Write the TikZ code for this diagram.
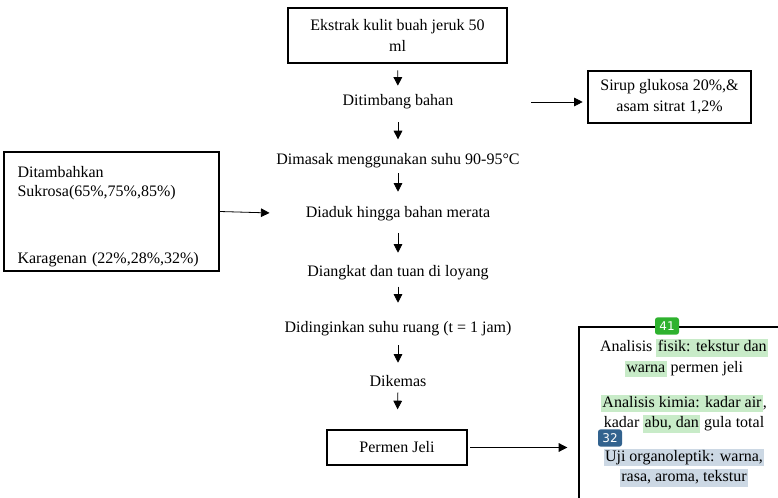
\documentclass[tikz,border=0pt]{standalone}
\usepackage{fontspec}
\setmainfont{Liberation Serif}
\newfontfamily\badgefont{DejaVu Sans}
\usepackage{tikz}
\usetikzlibrary{arrows.meta,positioning}
\usepackage{xcolor}
\definecolor{hlgreen}{RGB}{200,235,200}
\definecolor{hlblue}{RGB}{204,216,228}
\definecolor{badgegreen}{RGB}{46,178,46}
\definecolor{badgeblue}{RGB}{50,98,142}
\newcommand\hlg[1]{{\setlength\fboxsep{1pt}\colorbox{hlgreen}{\vphantom{Ag}#1}}}
\newcommand\hlb[1]{{\setlength\fboxsep{1pt}\colorbox{hlblue}{\vphantom{Ag}#1}}}

\begin{document}
\begin{tikzpicture}[x=0.75pt,y=-0.75pt,
    every node/.style={font=\fontsize{12}{15.5}\selectfont},
    box/.style={draw,line width=1.2pt,align=center,inner sep=0pt},
    stage/.style={inner sep=0pt,text height=9pt,text depth=3pt,anchor=base},
    flow/.style={-{Triangle[length=6.5pt,width=6.5pt]},line width=0.6pt},
    badge/.style={rounded corners=2pt,text=white,inner sep=0pt,minimum width=18pt,
      minimum height=13pt,font=\badgefont\fontsize{9}{9}\selectfont}]
  \useasboundingbox (0,0) rectangle (778,498);
  \clip (0,0) rectangle (778,498);

  \node[box,minimum width=164pt,minimum height=41pt] (ekstrak) at (397.5,35.5)
    {Ekstrak kulit buah jeruk 50\\ml};
  \node[stage] (timbang) at (398,106) {Ditimbang bahan};
  \node[stage] (masak) at (398,165) {Dimasak menggunakan suhu 90-95°C};
  \node[stage] (aduk) at (398,218) {Diaduk hingga bahan merata};
  \node[stage] (angkat) at (398,277) {Diangkat dan tuan di loyang};
  \node[stage] (dingin) at (398,333) {Didinginkan suhu ruang (t = 1 jam)};
  \node[stage] (kemas) at (398,387) {Dikemas};
  \node[box,minimum width=105pt,minimum height=26pt] (permen) at (397,447.5) {Permen Jeli};

  \node[box,minimum width=122pt,minimum height=39pt] (sirup) at (669.5,97)
    {Sirup glukosa 20\%,\&\\asam sitrat 1,2\%};
  \node[box,minimum width=161pt,minimum height=89pt,text width=141pt,align=left]
    (tambah) at (111.5,211.5)
    {\rule{0pt}{16pt}Ditambahkan\\[-1pt]Sukrosa(65\%,75\%,85\%)\\[35pt]Karagenan (22\%,28\%,32\%)};

  \node[draw,line width=1.2pt,minimum width=260pt,minimum height=200pt,anchor=north west]
    (hasil) at (578,326) {};
  \node[align=center,inner sep=0pt] (uji) at (684,413)
    {Analisis \hlg{fisik: tekstur dan}\\\hlg{warna} permen jeli\\[10.5pt]
     \hlg{Analisis kimia: kadar air},\\kadar \hlg{abu, dan} gula total\\[9.5pt]
     \hlb{Uji organoleptik: warna,}\\\hlb{rasa, aroma, tekstur}};
  \node[badge,fill=badgegreen] (b41) at (667,326) {41};
  \node[badge,fill=badgeblue] (b32) at (610,438) {32};

  \foreach \from/\to/\s/\e in {ekstrak/timbang/5/6, timbang/masak/9/10,
      masak/aduk/3/10.5, aduk/angkat/8/9, angkat/dingin/4/13.5,
      dingin/kemas/6/9, kemas/permen/1/15}
    \draw[flow,shorten <=\s pt,shorten >=\e pt] (\from) -- (\to);

  \coordinate (c1) at (531,102);
  \draw[flow,shorten >=3.5pt] (c1) -- (c1 -| sirup.west);
  \draw[flow,shorten <=-1pt,shorten >=27pt] (tambah.east) -- (aduk.west);
  \draw[flow,shorten <=2pt,shorten >=8pt] (permen.east) -- (permen.east -| hasil.west);
\end{tikzpicture}
\end{document}
